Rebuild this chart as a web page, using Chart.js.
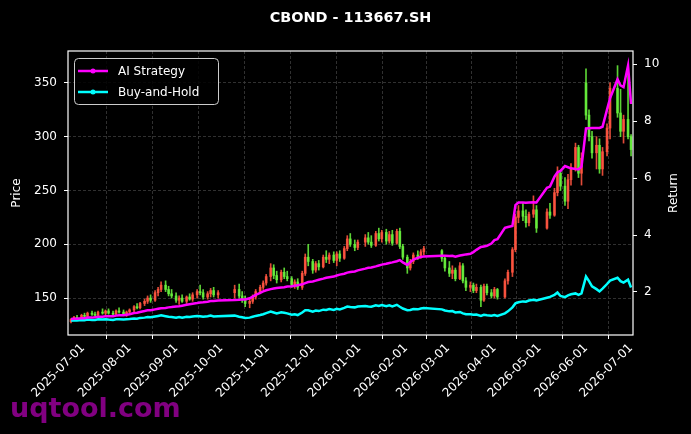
<!DOCTYPE html>
<html lang="zh-cn">
<head>
  <meta charset="UTF-8" />
  <title>CBOND - 113667.SH</title>
  <script src="https://cdn.jsdelivr.net/npm/chart.js"></script>
  <style>
    html, body { margin: 0; padding: 0; background: #000; }
    canvas { display: block; }
  </style>
</head>
<body>
  <canvas id="chart" width="691" height="434"></canvas>

  <script>
    // trading days (Mon/Wed/Fri sample)
    const dates = ['2025-06-23','2025-06-25','2025-06-27','2025-06-30',
      '2025-07-02','2025-07-04','2025-07-07','2025-07-09','2025-07-11','2025-07-14','2025-07-16','2025-07-18','2025-07-21','2025-07-23','2025-07-25','2025-07-28','2025-07-30',
      '2025-08-01','2025-08-04','2025-08-06','2025-08-08','2025-08-11','2025-08-13','2025-08-15','2025-08-18','2025-08-20','2025-08-22','2025-08-25','2025-08-27','2025-08-29',
      '2025-09-01','2025-09-03','2025-09-05','2025-09-08','2025-09-10','2025-09-12','2025-09-15','2025-09-17','2025-09-19','2025-09-22','2025-09-24','2025-09-26','2025-09-29',
      '2025-10-10','2025-10-13','2025-10-15','2025-10-17','2025-10-20','2025-10-22','2025-10-24','2025-10-27','2025-10-29','2025-10-31',
      '2025-11-03','2025-11-05','2025-11-07','2025-11-10','2025-11-12','2025-11-14','2025-11-17','2025-11-19','2025-11-21','2025-11-24','2025-11-26','2025-11-28',
      '2025-12-01','2025-12-03','2025-12-05','2025-12-08','2025-12-10','2025-12-12','2025-12-15','2025-12-17','2025-12-19','2025-12-22','2025-12-24','2025-12-26','2025-12-29','2025-12-31',
      '2026-01-05','2026-01-07','2026-01-09','2026-01-12','2026-01-14','2026-01-16','2026-01-19','2026-01-21','2026-01-23','2026-01-26','2026-01-28','2026-01-30',
      '2026-02-02','2026-02-04','2026-02-06','2026-02-09','2026-02-11','2026-02-13','2026-02-25','2026-02-27',
      '2026-03-02','2026-03-04','2026-03-06','2026-03-09','2026-03-11','2026-03-13','2026-03-16','2026-03-18','2026-03-20','2026-03-23','2026-03-25','2026-03-27','2026-03-30',
      '2026-04-01','2026-04-03','2026-04-08','2026-04-10','2026-04-13','2026-04-15','2026-04-17','2026-04-20','2026-04-22','2026-04-24','2026-04-27','2026-04-29',
      '2026-05-06','2026-05-08','2026-05-11','2026-05-13','2026-05-15','2026-05-18','2026-05-20','2026-05-22','2026-05-25','2026-05-27','2026-05-29',
      '2026-06-01','2026-06-03','2026-06-05','2026-06-08','2026-06-10','2026-06-12','2026-06-15','2026-06-17','2026-06-22','2026-06-24','2026-06-26','2026-06-29','2026-07-01'];

    const open = [128,130,132,131,
      134,133,136,135,134,137,136,138,136,135,138,137,135,
      137,139,142,141,145,147,150,148,155,158,162,158,154,
      152,148,150,147,151,149,153,156,155,151,154,157,153,
      155,158,152,149,145,147,151,156,160,164,
      170,178,171,167,174,170,168,162,165,160,173,188,
      184,176,182,179,188,186,190,185,191,187,196,205,200,197,
      202,206,202,199,210,205,211,203,209,201,212,198,
      188,178,184,190,188,193,194,187,
      178,173,176,168,180,166,160,162,157,160,148,161,155,
      152,158,151,166,174,195,225,231,226,220,228,232,
      215,230,227,248,266,254,240,260,270,290,266,
      350,320,300,285,292,270,286,308,345,322,305,316,300];
    const high = [131,133,134,135,
      136,137,138,137,138,140,139,140,138,139,141,139,138,
      140,143,145,146,149,152,153,157,160,165,166,161,158,
      155,152,153,152,154,155,158,162,158,156,159,160,157,
      162,163,156,152,149,153,158,162,166,172,
      182,181,175,176,178,175,170,167,168,175,191,200,
      186,184,185,190,194,192,193,193,194,198,208,210,204,204,
      209,211,208,212,215,213,214,212,213,214,215,200,
      190,186,192,194,195,198,195,189,
      184,180,178,183,182,169,165,164,163,162,163,163,158,
      160,159,168,176,197,228,236,238,232,230,245,236,
      233,238,252,272,268,262,265,275,294,292,285,
      363,325,305,300,298,290,312,350,366,344,320,363,302];
    const low = [127,129,130,130,
      132,132,134,133,133,135,134,135,134,134,136,134,133,
      135,137,140,140,143,145,146,147,152,156,156,152,150,
      146,144,146,145,148,147,150,153,149,149,151,151,150,
      150,150,146,142,141,145,149,154,158,162,
      166,168,164,165,168,166,160,159,158,158,171,180,
      173,174,176,178,183,182,183,180,184,186,194,198,194,195,
      198,200,197,198,203,202,200,201,199,200,196,186,
      173,176,182,186,187,190,184,175,
      170,168,166,167,164,157,156,155,155,142,147,153,150,
      150,149,150,163,170,193,220,222,216,217,225,211,
      214,224,226,245,250,236,233,255,268,262,255,
      316,296,280,270,266,264,282,298,318,300,294,298,282];
    const close = [130,132,131,134,
      133,136,135,134,137,136,138,136,135,138,137,135,137,
      139,142,141,145,147,150,148,155,158,162,158,154,152,
      148,150,147,151,149,153,156,155,151,154,157,153,155,
      158,152,149,145,147,151,156,160,164,170,
      178,171,167,174,170,168,162,165,160,173,188,184,
      176,182,179,188,186,190,185,191,187,196,205,200,197,202,
      206,202,199,210,205,211,203,209,201,212,198,188,
      178,184,190,188,193,196,187,178,
      173,176,168,180,166,160,162,157,160,148,161,155,152,
      158,151,166,174,195,225,231,226,220,228,232,215,
      230,227,248,266,254,240,260,270,290,266,280,
      320,300,285,292,270,286,308,345,322,305,316,300,288];

    const aiStrategy = [1.05,1.06,1.06,1.08,
      1.08,1.10,1.10,1.11,1.13,1.13,1.15,1.15,1.15,1.17,1.18,1.18,1.20,
      1.22,1.26,1.27,1.30,1.33,1.36,1.36,1.39,1.41,1.43,1.44,1.46,1.47,
      1.49,1.50,1.52,1.55,1.57,1.59,1.61,1.63,1.64,1.66,1.68,1.68,1.70,
      1.72,1.73,1.74,1.74,1.78,1.84,1.90,1.97,2.02,2.06,
      2.10,2.12,2.14,2.16,2.17,2.19,2.20,2.22,2.24,2.27,2.31,2.35,
      2.37,2.40,2.43,2.47,2.50,2.52,2.54,2.58,2.61,2.64,2.68,2.70,2.72,2.76,
      2.82,2.85,2.86,2.90,2.93,2.96,2.99,3.02,3.04,3.08,3.12,3.04,
      2.95,3.05,3.14,3.20,3.23,3.25,3.27,3.27,
      3.26,3.27,3.24,3.28,3.30,3.32,3.34,3.40,3.48,3.58,3.60,3.62,3.70,
      3.82,3.85,4.25,4.28,4.32,5.05,5.14,5.14,5.13,5.14,5.15,5.14,
      5.66,5.70,6.05,6.20,6.25,6.42,6.38,6.34,6.32,6.30,6.40,
      7.74,7.75,7.76,7.76,7.76,7.80,8.40,8.80,9.47,9.25,9.19,9.95,8.60];
    const buyHold = [1.00,1.01,1.00,1.02,
      1.01,1.03,1.02,1.02,1.04,1.03,1.04,1.03,1.02,1.04,1.04,1.03,1.04,
      1.05,1.07,1.06,1.09,1.10,1.12,1.11,1.14,1.16,1.18,1.15,1.13,1.12,
      1.10,1.12,1.10,1.13,1.12,1.14,1.16,1.15,1.13,1.15,1.17,1.14,1.15,
      1.17,1.13,1.11,1.09,1.10,1.13,1.16,1.19,1.22,1.26,
      1.31,1.28,1.25,1.29,1.27,1.25,1.20,1.22,1.19,1.28,1.36,1.36,
      1.31,1.35,1.33,1.38,1.37,1.40,1.37,1.41,1.39,1.44,1.49,1.47,1.46,1.49,
      1.51,1.49,1.48,1.53,1.51,1.54,1.50,1.53,1.49,1.55,1.48,1.42,
      1.36,1.37,1.40,1.39,1.42,1.44,1.39,1.35,
      1.32,1.33,1.28,1.30,1.25,1.22,1.22,1.20,1.21,1.16,1.20,1.18,1.17,
      1.19,1.16,1.25,1.32,1.46,1.60,1.64,1.67,1.66,1.70,1.73,1.70,
      1.80,1.83,1.90,1.98,1.86,1.82,1.88,1.92,1.95,1.90,1.95,
      2.54,2.38,2.20,2.10,2.02,2.12,2.28,2.40,2.50,2.38,2.33,2.43,2.16];

    const dateTicks = ['2025-07-01','2025-08-01','2025-09-01','2025-10-01','2025-11-01','2025-12-01',
      '2026-01-01','2026-02-01','2026-03-01','2026-04-01','2026-05-01','2026-06-01','2026-07-01'];
    const priceTicks = [150, 200, 250, 300, 350];
    const returnTicks = [2, 4, 6, 8, 10];

    const FONT = "'DejaVu Sans', sans-serif";
    const UP = 'rgba(255,84,64,0.88)';
    const DOWN = 'rgba(104,240,60,0.88)';
    const GRID = '#3c3c3c';

    function dayNum(s) {
      const p = s.split('-').map(Number);
      return (Date.UTC(p[0], p[1] - 1, p[2]) - Date.UTC(2025, 6, 1)) / 864e5;
    }

    const xs = dates.map(dayNum);
    const candleColor = (ctx) => {
      const i = ctx.dataIndex;
      return close[i] >= open[i] ? UP : DOWN;
    };

    const overlay = {
      id: 'overlay',
      afterDraw(chart) {
        const c = chart.ctx, a = chart.chartArea;
        c.save();
        // frame
        c.strokeStyle = '#fff';
        c.lineWidth = 1.2;
        c.strokeRect(a.left, a.top, a.right - a.left, a.bottom - a.top);

        // legend
        const lx = a.left + 6, ly = a.top + 7;
        c.fillStyle = 'rgba(0,0,0,0.85)';
        c.strokeStyle = '#cccccc';
        c.lineWidth = 1;
        c.beginPath();
        c.roundRect(lx + 0.5, ly + 0.5, 144, 46, 4);
        c.fill();
        c.stroke();
        const items = [['AI Strategy', '#ff00ff'], ['Buy-and-Hold', '#00ffff']];
        c.font = '12px ' + FONT;
        c.textBaseline = 'middle';
        items.forEach((it, k) => {
          const y = ly + 13 + k * 21;
          c.strokeStyle = it[1];
          c.lineWidth = 2.5;
          c.beginPath();
          c.moveTo(lx + 4, y);
          c.lineTo(lx + 34, y);
          c.stroke();
          c.fillStyle = it[1];
          c.beginPath();
          c.arc(lx + 19, y, 2.5, 0, Math.PI * 2);
          c.fill();
          c.fillStyle = '#fff';
          c.textAlign = 'left';
          c.fillText(it[0], lx + 44, y + 1);
        });

        // title
        c.fillStyle = '#fff';
        c.textAlign = 'center';
        c.font = 'bold 14.4px ' + FONT;
        c.fillText('CBOND - 113667.SH', (a.left + a.right) / 2, 18);

        // axis titles
        c.font = '12px ' + FONT;
        const cy = (a.top + a.bottom) / 2;
        [[17, 'Price'], [674, 'Return']].forEach(t => {
          c.save();
          c.translate(t[0], cy);
          c.rotate(-Math.PI / 2);
          c.fillText(t[1], 0, 0);
          c.restore();
        });

        // watermark
        c.font = 'bold 27px ' + FONT;
        c.textAlign = 'left';
        c.textBaseline = 'alphabetic';
        c.fillStyle = 'rgba(140,0,140,0.92)';
        c.fillText('uqtool.com', 10, 417);
        c.restore();
      }
    };

    const tickFont = { family: FONT, size: 12 };
    const gridOpts = { color: GRID, lineWidth: 0.8, tickColor: '#fff', tickLength: 4, tickBorderDash: [], tickWidth: 1 };

    new Chart(document.getElementById('chart'), {
      type: 'bar',
      data: {
        datasets: [
          {
            type: 'line', label: 'AI Strategy', yAxisID: 'y1', order: 0,
            data: xs.map((x, i) => ({ x: x, y: aiStrategy[i] })),
            borderColor: '#ff00ff', borderWidth: 2.5, pointRadius: 0, tension: 0
          },
          {
            type: 'line', label: 'Buy-and-Hold', yAxisID: 'y1', order: 1,
            data: xs.map((x, i) => ({ x: x, y: buyHold[i] })),
            borderColor: '#00ffff', borderWidth: 2.5, pointRadius: 0, tension: 0
          },
          {
            label: 'body', yAxisID: 'y', order: 2, grouped: false,
            data: xs.map((x, i) => ({ x: x, y: [open[i], close[i]] })),
            backgroundColor: candleColor, barThickness: 2, minBarLength: 1
          },
          {
            label: 'wick', yAxisID: 'y', order: 3, grouped: false,
            data: xs.map((x, i) => ({ x: x, y: [low[i], high[i]] })),
            backgroundColor: candleColor, barThickness: 1
          }
        ]
      },
      options: {
        responsive: false,
        animation: false,
        devicePixelRatio: 1,
        layout: { padding: { top: 51, left: 0, right: 0, bottom: 0 } },
        plugins: { legend: { display: false }, title: { display: false }, tooltip: { enabled: false } },
        scales: {
          x: {
            type: 'linear', offset: false,
            min: -10, max: 366.3,
            afterBuildTicks: s => { s.ticks = dateTicks.map(d => ({ value: dayNum(d) })); },
            afterFit: s => { s.height = 99; },
            ticks: {
              color: '#fff', font: tickFont, autoSkip: false,
              minRotation: 45, maxRotation: 45, padding: 2,
              callback: v => { const i = dateTicks.findIndex(d => dayNum(d) === v); return i >= 0 ? dateTicks[i] : ''; }
            },
            grid: gridOpts,
            border: { display: false, dash: [3, 2] }
          },
          y: {
            position: 'left', min: 115.7, max: 379.6,
            afterBuildTicks: s => { s.ticks = priceTicks.map(v => ({ value: v })); },
            afterFit: s => { s.width = 68; },
            ticks: { color: '#fff', font: tickFont, padding: 7 },
            grid: gridOpts,
            border: { display: false, dash: [3, 2] }
          },
          y1: {
            position: 'right', min: 0.49, max: 10.46,
            afterBuildTicks: s => { s.ticks = returnTicks.map(v => ({ value: v })); },
            afterFit: s => { s.width = 58; },
            ticks: { color: '#fff', font: tickFont, padding: 7 },
            grid: { drawOnChartArea: false, tickColor: '#fff', tickLength: 4, tickWidth: 1 },
            border: { display: false }
          }
        }
      },
      plugins: [overlay]
    });
  </script>
</body>
</html>
